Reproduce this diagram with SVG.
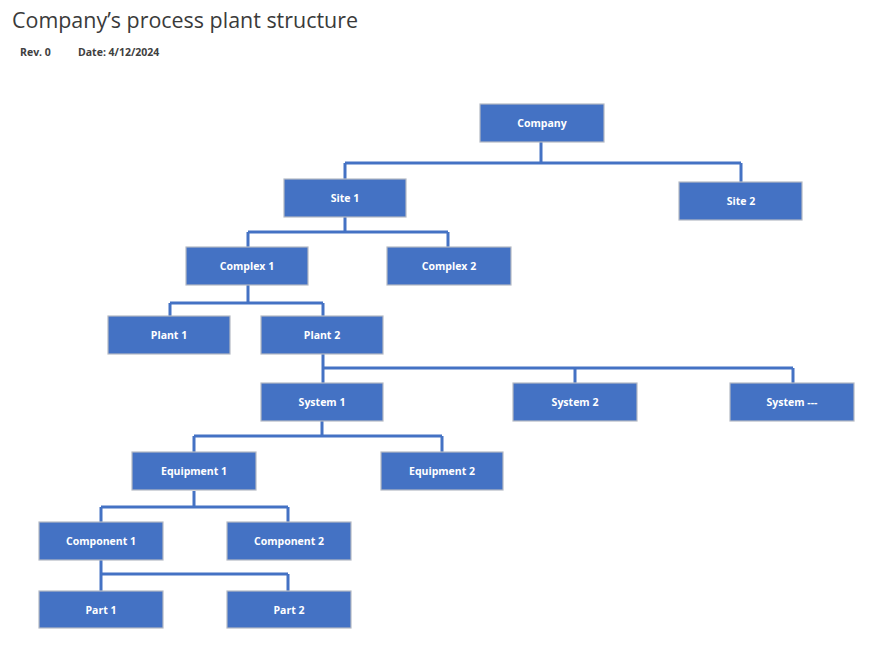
<svg xmlns="http://www.w3.org/2000/svg" width="870" height="647" viewBox="0 0 870 647">
<style>
.box{fill:#4472C4;stroke:#B4B9C4;stroke-width:1.2}
.lbl{font-family:"Open Sans","Liberation Sans",sans-serif;font-size:10.5px;font-weight:bold;fill:#FFFFFF;text-anchor:middle;dominant-baseline:central}
.con{fill:none;stroke:#4472C4;stroke-width:3}
.title{font-family:"Open Sans","Liberation Sans",sans-serif;font-size:21px;fill:#3a3a3a}
.meta{font-family:"Open Sans","Liberation Sans",sans-serif;font-size:10.5px;font-weight:bold;fill:#404040}
</style>
<rect width="870" height="647" fill="#FFFFFF"/>
<text class="title" x="12" y="28" textLength="346" lengthAdjust="spacingAndGlyphs">Company’s process plant structure</text>
<text class="meta" x="20" y="56">Rev. 0</text>
<text class="meta" x="78" y="56">Date: 4/12/2024</text>
<g id="connectors">
<path class="con" d="M541,142 V163 M345,163 H741 M345,163 V179 M741,163 V182"/>
<path class="con" d="M345,217 V232 M248,232 H448 M248,232 V247 M448,232 V247"/>
<path class="con" d="M248,285 V303 M170,303 H323 M170,303 V316 M323,303 V316"/>
<path class="con" d="M323,354 V383 M323,368 H793 M575,368 V383 M793,368 V383"/>
<path class="con" d="M322,421 V436 M194,436 H442 M194,436 V452 M442,436 V452"/>
<path class="con" d="M194,491 V507 M101,507 H288 M101,507 V522 M288,507 V522"/>
<path class="con" d="M101,560 V591 M101,574 H288 M288,574 V591"/>
</g>
<g id="company"><rect class="box" x="480" y="104" width="124" height="38"/><text class="lbl" x="542" y="123">Company</text></g>
<g id="site1"><rect class="box" x="284" y="179" width="122" height="38"/><text class="lbl" x="345" y="198">Site 1</text></g>
<g id="site2"><rect class="box" x="679" y="182" width="123" height="38"/><text class="lbl" x="741" y="201">Site 2</text></g>
<g id="complex1"><rect class="box" x="186" y="247" width="122" height="38"/><text class="lbl" x="247" y="266">Complex 1</text></g>
<g id="complex2"><rect class="box" x="387" y="247" width="124" height="38"/><text class="lbl" x="449" y="266">Complex 2</text></g>
<g id="plant1"><rect class="box" x="108" y="316" width="122" height="38"/><text class="lbl" x="169" y="335">Plant 1</text></g>
<g id="plant2"><rect class="box" x="261" y="316" width="122" height="38"/><text class="lbl" x="322" y="335">Plant 2</text></g>
<g id="system1"><rect class="box" x="261" y="383" width="122" height="38"/><text class="lbl" x="322" y="402">System 1</text></g>
<g id="system2"><rect class="box" x="513" y="383" width="124" height="38"/><text class="lbl" x="575" y="402">System 2</text></g>
<g id="system3"><rect class="box" x="730" y="383" width="124" height="38"/><text class="lbl" x="792" y="402">System ---</text></g>
<g id="equipment1"><rect class="box" x="132" y="452" width="124" height="38"/><text class="lbl" x="194" y="471">Equipment 1</text></g>
<g id="equipment2"><rect class="box" x="381" y="452" width="122" height="38"/><text class="lbl" x="442" y="471">Equipment 2</text></g>
<g id="component1"><rect class="box" x="39" y="522" width="124" height="38"/><text class="lbl" x="101" y="541">Component 1</text></g>
<g id="component2"><rect class="box" x="227" y="522" width="124" height="38"/><text class="lbl" x="289" y="541">Component 2</text></g>
<g id="part1"><rect class="box" x="39" y="591" width="124" height="37"/><text class="lbl" x="101" y="609.5">Part 1</text></g>
<g id="part2"><rect class="box" x="227" y="591" width="124" height="37"/><text class="lbl" x="289" y="609.5">Part 2</text></g>
</svg>
